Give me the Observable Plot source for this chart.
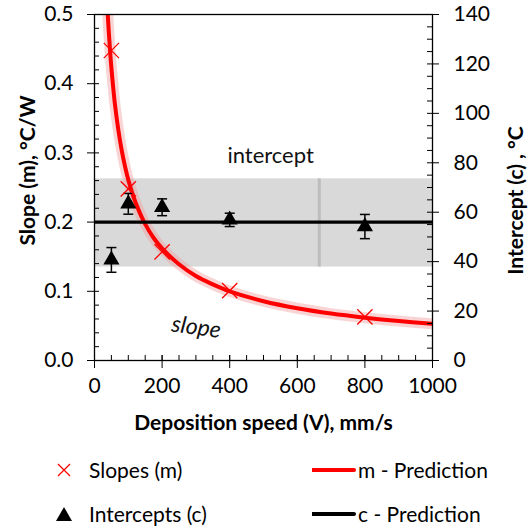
<!DOCTYPE html>
<html><head><meta charset="utf-8">
<script src="https://cdn.jsdelivr.net/npm/d3@7"></script>
<script src="https://cdn.jsdelivr.net/npm/@observablehq/plot@0.6"></script>
<style>
body{margin:0;background:#fff;font-family:Lato, sans-serif;}
#wrap{position:relative;width:528px;height:528px;overflow:hidden;}
.leg{position:absolute;font-size:21px;line-height:1;white-space:nowrap;color:#000;}
</style></head><body><div id="wrap"></div>
<script>
// measured data
const speeds = [50, 100, 200, 400, 800];
const slopes = [0.448, 0.248, 0.157, 0.101, 0.063];
const intercepts = [40.7, 63.4, 62.0, 56.9, 54.2];
const interceptErr = [5.0, 4.2, 3.4, 2.7, 4.9];
// prediction curve for slope
const curveV = [38,42,46,50,55,60,70,80,90,100,115,130,150,175,200,250,300,350,400,500,600,700,800,900,1000];
const curveM = [0.511,0.477,0.448,0.423,0.396,0.372,0.335,0.305,0.281,0.261,0.237,0.218,0.197,0.177,0.162,0.139,0.122,0.110,0.100,0.0857,0.0755,0.0678,0.0619,0.0570,0.0530];
// intercept prediction and band
const cPred = 56;
const bandLow = 37.8;
const bandHigh = 73.5;
const bandMarkV = 665;
// axes
const xTicks = [0, 200, 400, 600, 800, 1000];
const xMinor = d3.range(0, 1001, 50);
const mTicks = [0, 0.1, 0.2, 0.3, 0.4, 0.5];
const mMinor = d3.range(0, 0.5001, 0.02);
const cTicks = [0, 20, 40, 60, 80, 100, 120, 140];
const cMinor = d3.range(0, 141, 5);
// annotations
const noteText = ["intercept", "slope"];
const noteV = [521, 301];
const noteM = [0.296, 0.048];

const K = cTicks[cTicks.length - 1] / mTicks[mTicks.length - 1];
const toY = c => c / K;

const pts = speeds.map((v, i) => ({v, m: slopes[i], c: intercepts[i], lo: intercepts[i] - interceptErr[i], hi: intercepts[i] + interceptErr[i]}));
const curve = curveV.map((v, i) => ({v, m: curveM[i]}));
const capSymbol = {draw(ctx, size) { const h = Math.sqrt(size / Math.PI); ctx.moveTo(-h, 0); ctx.lineTo(h, 0); }};

const chart = Plot.plot({
  width: 528, height: 445,
  marginTop: 14, marginBottom: 85, marginLeft: 94, marginRight: 96,
  style: {fontFamily: "Lato, sans-serif", fontSize: "21px", color: "#000", background: "transparent", overflow: "visible"},
  x: {domain: [xTicks[0], xTicks[xTicks.length - 1]]},
  y: {domain: [mTicks[0], mTicks[mTicks.length - 1]]},
  marks: [
    Plot.rect([{x1: xTicks[0], x2: xTicks[xTicks.length - 1], y1: toY(bandLow), y2: toY(bandHigh)}], {x1: "x1", x2: "x2", y1: "y1", y2: "y2", fill: "#d9d9d9"}),
    Plot.ruleX([bandMarkV], {y1: toY(bandLow), y2: toY(bandHigh), stroke: "#bdbdbd", strokeWidth: 3}),
    Plot.line(curve, {x: "v", y: "m", stroke: "#f2a0a0", strokeOpacity: 0.45, strokeWidth: 11, curve: "catmull-rom", clip: true}),
    Plot.line(curve, {x: "v", y: "m", stroke: "#ff0000", strokeWidth: 4, curve: "catmull-rom", clip: true}),
    Plot.ruleY([toY(cPred)], {stroke: "#000", strokeWidth: 3.2}),
    Plot.ruleX(pts, {x: "v", y1: d => toY(d.lo), y2: d => toY(d.hi), stroke: "#000", strokeWidth: 1.5}),
    Plot.dot(pts, {x: "v", y: d => toY(d.lo), symbol: capSymbol, r: 5, stroke: "#000", strokeWidth: 1.5}),
    Plot.dot(pts, {x: "v", y: d => toY(d.hi), symbol: capSymbol, r: 5, stroke: "#000", strokeWidth: 1.5}),
    Plot.dot(pts, {x: "v", y: d => toY(d.c), symbol: "triangle", r: 6, fill: "#000", stroke: "none"}),
    Plot.dot(pts, {x: "v", y: "m", symbol: "times", r: 7, stroke: "#ff0000", strokeWidth: 1.3}),
    Plot.text([noteText[0]], {x: [noteV[0]], y: [noteM[0]], text: d => d, fontSize: 22, fill: "#111"}),
    Plot.text([noteText[1]], {x: [noteV[1]], y: [noteM[1]], text: d => d, fontSize: 23, fontStyle: "italic", rotate: 8, fill: "#111"}),
    // bottom axis
    Plot.axisX({ticks: xTicks, tickSize: 8, tickPadding: 10, label: null, tickFormat: d => String(d)}),
    Plot.axisX({ticks: xTicks, tickSize: -5, fill: "none", label: null}),
    Plot.axisX({ticks: xMinor, tickSize: -5, fill: "none", label: null}),
    // left axis
    Plot.axisY({ticks: mTicks, tickSize: 7, tickPadding: 14, label: null, tickFormat: d3.format(".1f")}),
    Plot.axisY({ticks: mMinor, tickSize: -5, fill: "none", label: null}),
    // right axis (intercept)
    Plot.axisY({anchor: "right", ticks: cTicks.map(toY), tickSize: 6, tickPadding: 15, label: null, tickFormat: d => String(Math.round(d * K))}),
    Plot.axisY({anchor: "right", ticks: cMinor.map(toY), tickSize: -6, fill: "none", label: null}),
    Plot.frame({stroke: "#000", strokeWidth: 1.3}),
    // titles
    Plot.text(["Deposition speed (V), mm/s"], {frameAnchor: "bottom", dy: 63, textAnchor: "middle", lineAnchor: "middle", fontWeight: "bold", fontSize: 21}),
    Plot.text(["Slope (m), °C/W"], {frameAnchor: "left", dx: -66, dy: -17, textAnchor: "middle", lineAnchor: "middle", rotate: -90, fontWeight: "bold", fontSize: 21}),
    Plot.text(["Intercept (c) , °C"], {frameAnchor: "right", dx: 84, dy: 13, textAnchor: "middle", lineAnchor: "middle", rotate: -90, fontWeight: "bold", fontSize: 21})
  ]
});
const wrap = document.getElementById("wrap");
chart.style.position = "absolute"; chart.style.left = "0"; chart.style.top = "0";
wrap.appendChild(chart);

// legend
const legendItems = [
  {label: "Slopes (m)", kind: "times", color: "#ff0000", x: 52, y: 468},
  {label: "Intercepts (c)", kind: "triangle", color: "#000", x: 52, y: 512},
  {label: "m - Prediction", kind: "line", color: "#ff0000", x: 312, y: 468},
  {label: "c - Prediction", kind: "line", color: "#000", x: 312, y: 512}
];
for (const it of legendItems) {
  const d = document.createElement("div");
  d.className = "leg";
  const iconW = it.kind === "line" ? 46 : 37;
  const svg = d3.create("svg").attr("width", iconW).attr("height", 20).style("vertical-align", "middle");
  if (it.kind === "line") svg.append("line").attr("x1", 0).attr("x2", 42).attr("y1", 10).attr("y2", 10).attr("stroke", it.color).attr("stroke-width", 4).attr("stroke-linecap", "round");
  else if (it.kind === "times") svg.append("path").attr("d", "M6,4L18,16M18,4L6,16").attr("stroke", it.color).attr("stroke-width", 1.3).attr("fill", "none");
  else svg.append("path").attr("d", "M12,3L20,17L4,17Z").attr("fill", it.color);
  d.appendChild(svg.node());
  const s = document.createElement("span");
  s.textContent = it.label;
  s.style.verticalAlign = "middle";
  d.appendChild(s);
  d.style.left = it.x + "px";
  d.style.top = (it.y - 12) + "px";
  wrap.appendChild(d);
}
</script>
</body></html>
